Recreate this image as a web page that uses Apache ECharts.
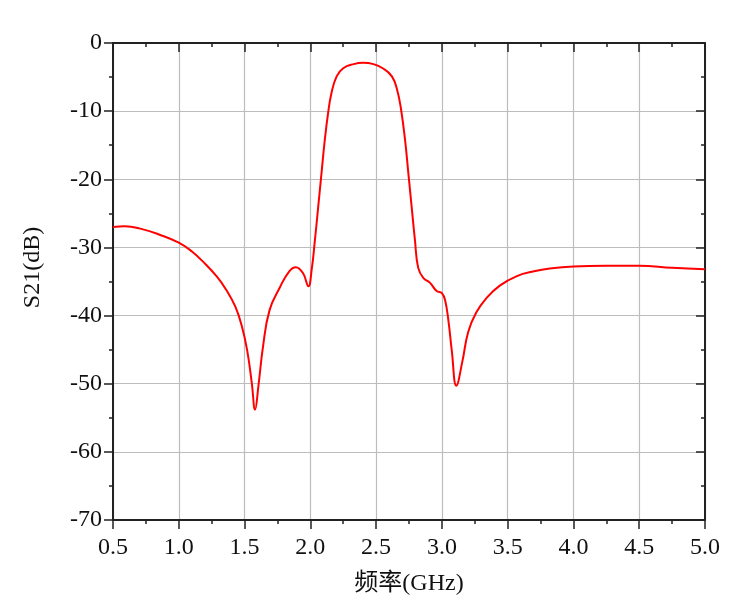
<!DOCTYPE html>
<html>
<head>
<meta charset="utf-8">
<title>S21</title>
<script src="https://cdn.jsdelivr.net/npm/echarts@6/dist/echarts.min.js"></script>
<style>
  html, body { margin: 0; padding: 0; background: #fff; }
  #chart { width: 746px; height: 604px; }
</style>
</head>
<body>
<div id="chart"></div>
<script>
// 频率 (GHz) 与 S21 (dB)，从图上读出的数值
var freq = [
  0.50, 0.59, 0.70, 0.85, 1.00, 1.10, 1.19, 1.29, 1.36, 1.43,
  1.48, 1.52, 1.555, 1.58, 1.605, 1.64, 1.69, 1.77, 1.84, 1.89,
  1.945, 1.985, 2.01, 2.035, 2.06, 2.085, 2.11, 2.135, 2.16, 2.20,
  2.25, 2.33, 2.40, 2.48, 2.55, 2.62, 2.66, 2.69, 2.72, 2.745,
  2.77, 2.795, 2.82, 2.86, 2.91, 2.96, 3.00, 3.025, 3.05, 3.075,
  3.11, 3.155, 3.20, 3.26, 3.34, 3.44, 3.57, 3.70, 3.82, 4.00,
  4.25, 4.50, 4.75, 5.00
];
var s21 = [
  -27.0, -26.9, -27.2, -28.1, -29.3, -30.6, -32.2, -34.3, -36.2, -38.7,
  -41.6, -45.1, -49.9, -53.8, -50.4, -44.6, -39.2, -35.8, -33.5, -32.9,
  -33.8, -35.7, -33.3, -28.9, -24.0, -19.1, -14.2, -10.3, -7.4, -4.9,
  -3.7, -3.1, -2.9, -3.1, -3.7, -4.9, -6.9, -9.8, -14.2, -19.1,
  -24.0, -28.9, -33.0, -34.5, -35.2, -36.4, -36.7, -37.8, -40.8, -45.1,
  -50.3, -46.8, -42.4, -39.6, -37.4, -35.6, -34.2, -33.5, -33.1, -32.8,
  -32.7, -32.7, -33.0, -33.2
];
// 坐标轴范围
var xMin = 0.5, xMax = 5.0, xStep = 0.5;
var yMin = -70, yMax = 0, yStep = 10;

var font = "'Liberation Serif', 'Times New Roman', 'Noto Sans CJK SC', serif";
var frameColor = '#222';
var gridColor = '#bdbdbd';

var points = freq.map(function (f, i) { return [f, s21[i]]; });

var chart = echarts.init(document.getElementById('chart'));

// 主坐标轴（下/左）与镜像坐标轴（上/右）共用的样式
function axisBase() {
  return {
    type: 'value',
    axisLine: { show: true, onZero: false, lineStyle: { color: frameColor, width: 2 } },
    axisTick: { show: true, length: 9, lineStyle: { color: frameColor, width: 1.5 } },
    minorTick: { show: true, splitNumber: 2, length: 4, lineStyle: { color: frameColor, width: 1.5 } },
    splitLine: { show: false }
  };
}

var xBottom = Object.assign(axisBase(), {
  position: 'bottom',
  min: xMin, max: xMax, interval: xStep,
  name: '频率(GHz)',
  nameLocation: 'middle',
  nameGap: 52,
  nameTextStyle: { fontFamily: font, fontSize: 24, color: '#111' },
  axisLabel: {
    margin: 16, fontFamily: font, fontSize: 24, color: '#111',
    formatter: function (v) { return v.toFixed(1); }
  },
  splitLine: { show: true, lineStyle: { color: gridColor, width: 1.2 } }
});

var xTop = Object.assign(axisBase(), {
  position: 'top',
  min: xMin, max: xMax, interval: xStep,
  axisLabel: { show: false }
});
xTop.axisTick.inside = true;
xTop.minorTick.inside = true;

var yLeft = Object.assign(axisBase(), {
  position: 'left',
  min: yMin, max: yMax, interval: yStep,
  name: 'S21(dB)',
  nameLocation: 'middle',
  nameRotate: 90,
  nameGap: 68,
  nameTextStyle: { fontFamily: font, fontSize: 24, color: '#111', padding: [0, 0, 0, 28] },
  axisLabel: { margin: 11, fontFamily: font, fontSize: 24, color: '#111' },
  splitLine: { show: true, lineStyle: { color: gridColor, width: 1.2 } }
});

var yRight = Object.assign(axisBase(), {
  position: 'right',
  min: yMin, max: yMax, interval: yStep,
  axisLabel: { show: false }
});
yRight.axisTick.inside = true;
yRight.minorTick.inside = true;

chart.setOption({
  animation: false,
  backgroundColor: '#fff',
  grid: { left: 113, right: 41, top: 43, bottom: 84 },
  xAxis: [xBottom, xTop],
  yAxis: [yLeft, yRight],
  series: [
    {
      type: 'line',
      data: points,
      xAxisIndex: 0,
      yAxisIndex: 0,
      showSymbol: false,
      smooth: 0.45,
      lineStyle: { color: '#ff0000', width: 2 }
    }
  ]
});
</script>
</body>
</html>
